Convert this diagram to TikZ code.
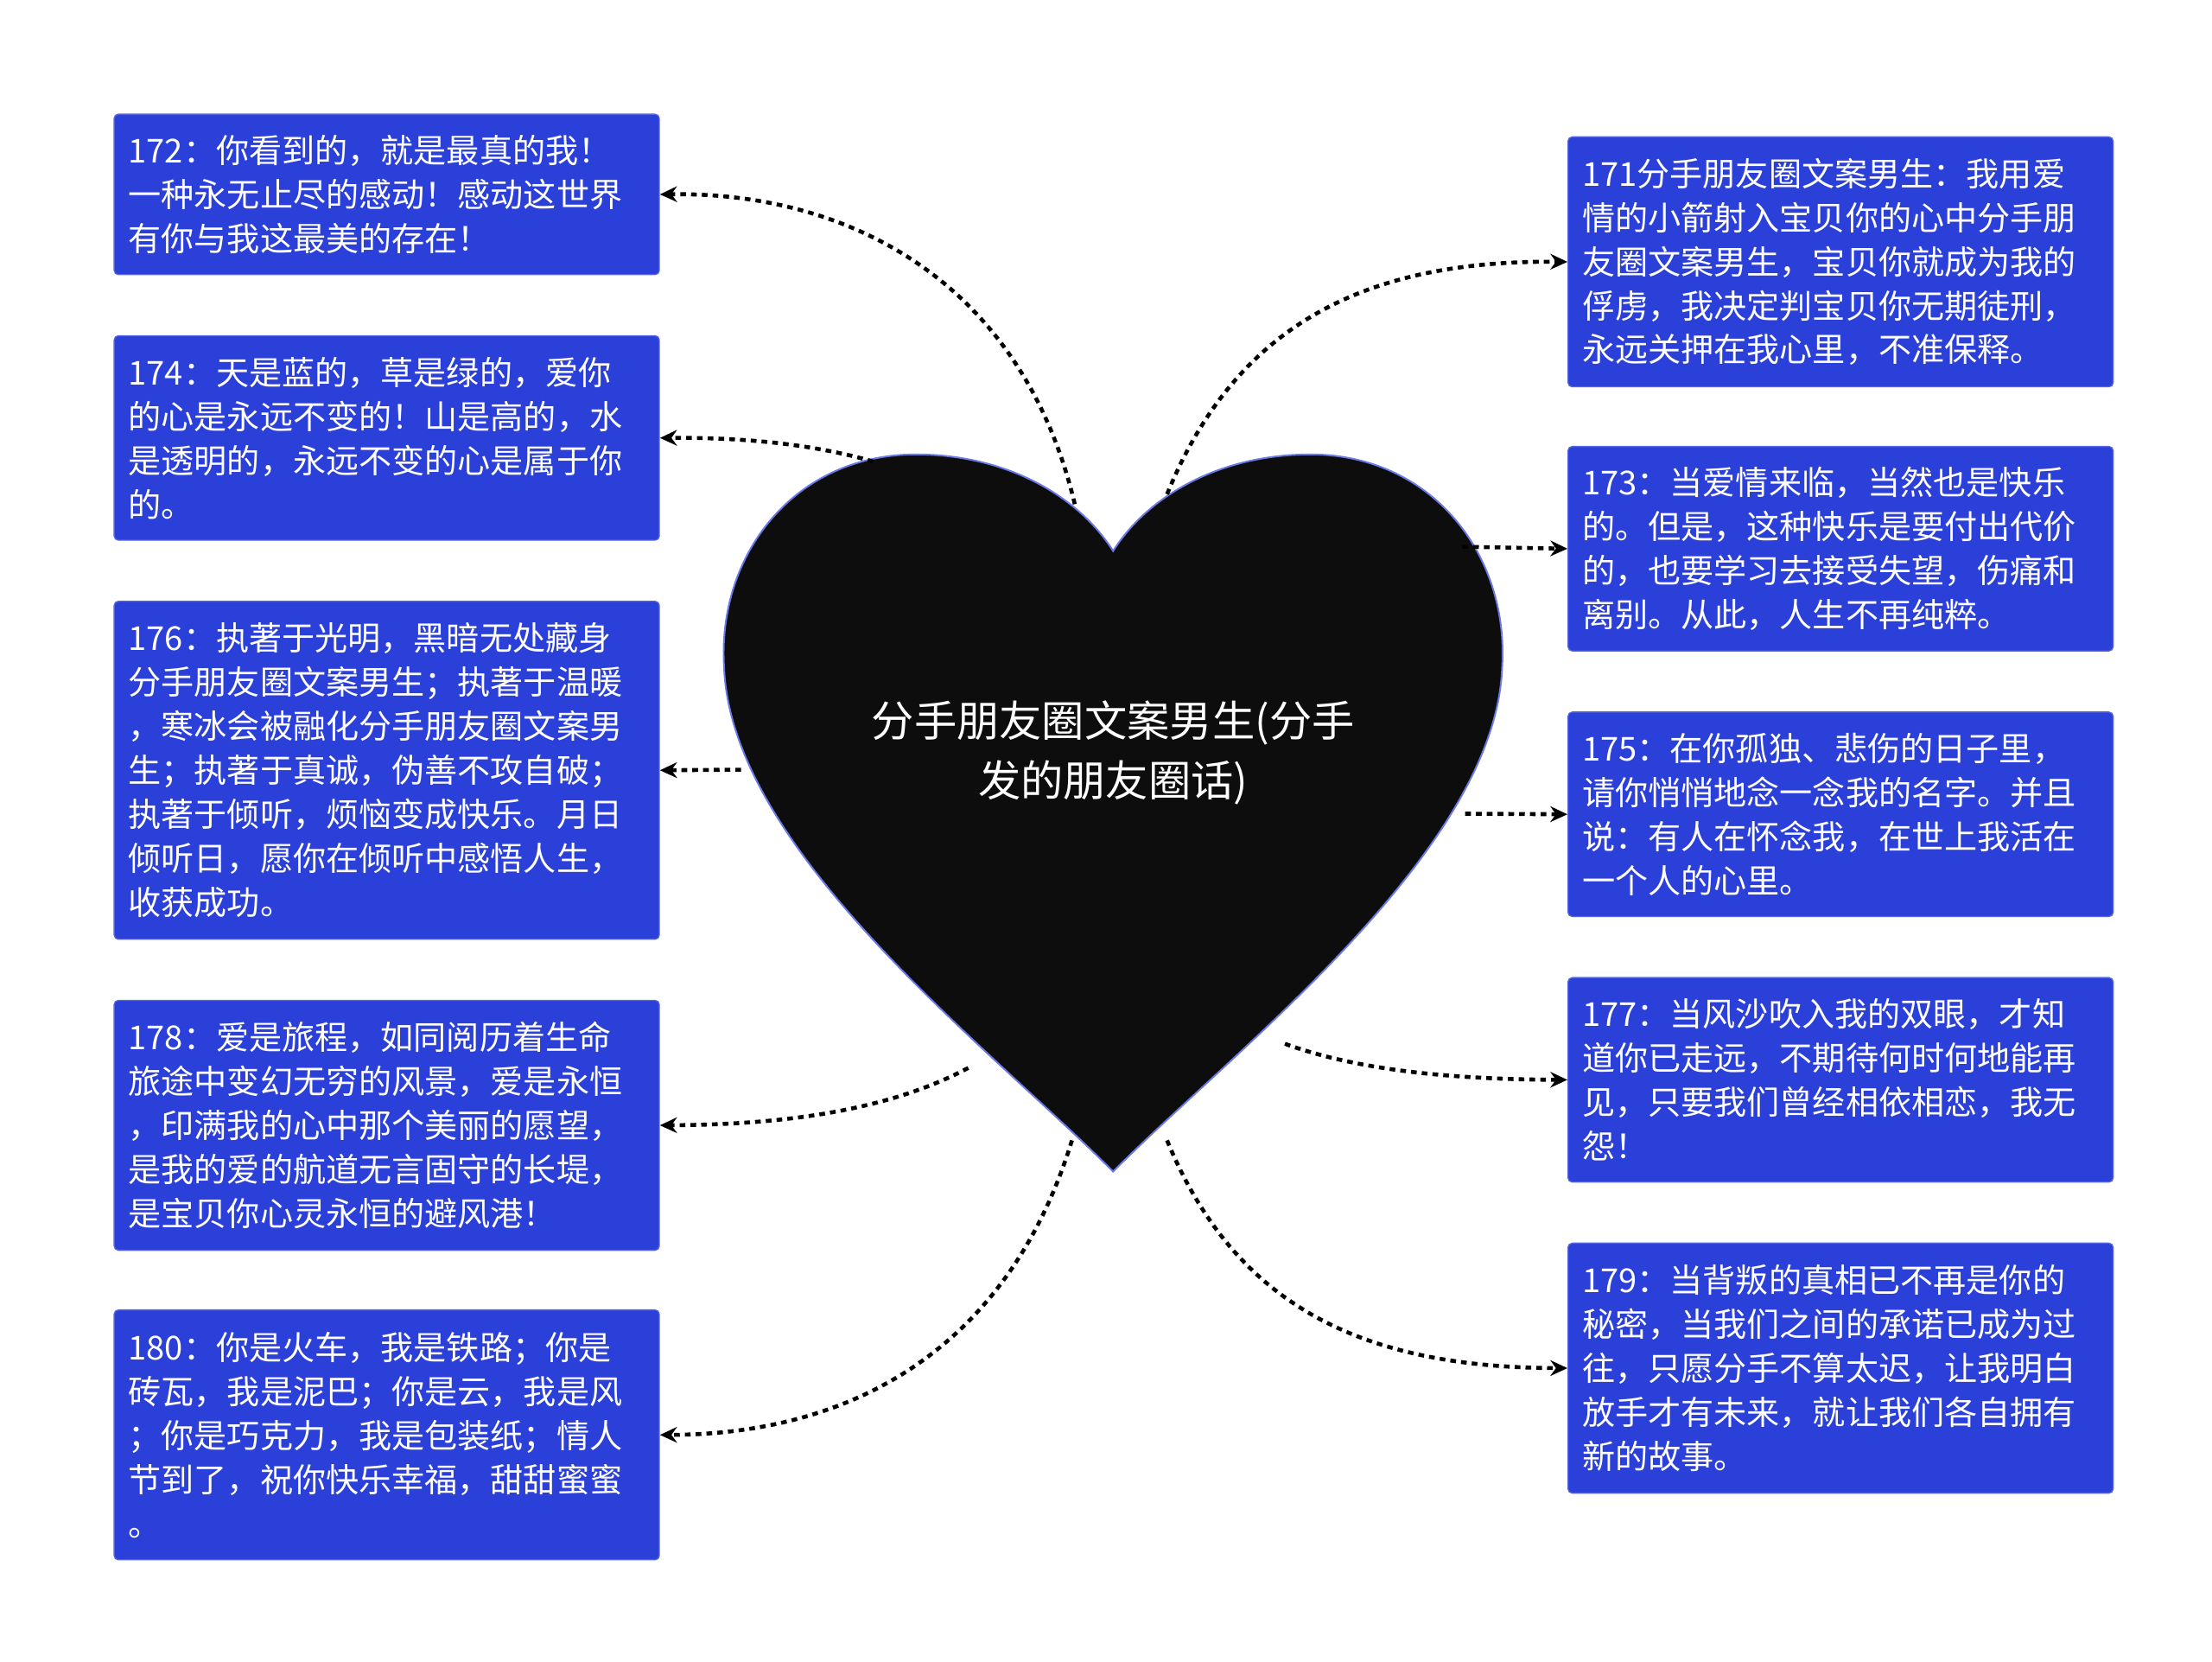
\documentclass[tikz,border=0pt]{standalone}
\usepackage{fontspec}
\setmainfont{Noto Sans CJK SC}
\usetikzlibrary{arrows.meta}
\definecolor{boxblue}{HTML}{2B3FD9}
\tikzset{
 box/.style={draw=boxblue!80!white,fill=boxblue,rounded corners=1.5pt,text=white,anchor=north west,
   text width=182pt,inner xsep=5pt,inner ysep=4pt,align=left,minimum width=192pt,
   font=\fontsize{11.6pt}{15.5pt}\selectfont},
 conn/.style={dash pattern=on 2pt off 1.8pt,line width=1.4pt,-{Stealth[length=6pt,width=5.5pt]}}
}
\begin{document}
\begin{tikzpicture}[x=0.5pt,y=-0.5pt]
\useasboundingbox (0,0) rectangle (1558,1170);
\fill[white] (0,0) rectangle (1558,1170);
% heart
\draw[fill=black!95,draw=boxblue!70,line width=0.6pt]
 (784,388) .. controls (760,350) and (710,320) .. (645,320)
 .. controls (560,320) and (505,390) .. (510,470)
 .. controls (515,600) and (700,740) .. (784,825)
 .. controls (868,740) and (1053,600) .. (1058,470)
 .. controls (1063,390) and (1008,320) .. (923,320)
 .. controls (858,320) and (808,350) .. (784,388) -- cycle;
\node[text=white,align=center,font=\fontsize{15pt}{21pt}\selectfont] (c) at (784,530) {分手朋友圈文案男生(分手\\发的朋友圈话)};
% left
\node[box,minimum height=56.5pt] (b172) at (80,80) {172：你看到的，就是最真的我！\\一种永无止尽的感动！感动这世界\\有你与我这最美的存在！};
\node[box,minimum height=72pt] (b174) at (80,236) {174：天是蓝的，草是绿的，爱你\\的心是永远不变的！山是高的，水\\是透明的，永远不变的心是属于你\\的。};
\node[box,minimum height=119pt] (b176) at (80,423) {176：执著于光明，黑暗无处藏身\\分手朋友圈文案男生；执著于温暖\\，寒冰会被融化分手朋友圈文案男\\生；执著于真诚，伪善不攻自破；\\执著于倾听，烦恼变成快乐。月日\\倾听日，愿你在倾听中感悟人生，\\收获成功。};
\node[box,minimum height=88pt] (b178) at (80,704) {178：爱是旅程，如同阅历着生命\\旅途中变幻无穷的风景，爱是永恒\\，印满我的心中那个美丽的愿望，\\是我的爱的航道无言固守的长堤，\\是宝贝你心灵永恒的避风港！};
\node[box,minimum height=88pt] (b180) at (80,922) {180：你是火车，我是铁路；你是\\砖瓦，我是泥巴；你是云，我是风\\；你是巧克力，我是包装纸；情人\\节到了，祝你快乐幸福，甜甜蜜蜜\\。};
% right
\node[box,minimum height=88pt] (b171) at (1104,96) {171分手朋友圈文案男生：我用爱\\情的小箭射入宝贝你的心中分手朋\\友圈文案男生，宝贝你就成为我的\\俘虏，我决定判宝贝你无期徒刑，\\永远关押在我心里，不准保释。};
\node[box,minimum height=72pt] (b173) at (1104,314) {173：当爱情来临，当然也是快乐\\的。但是，这种快乐是要付出代价\\的，也要学习去接受失望，伤痛和\\离别。从此，人生不再纯粹。};
\node[box,minimum height=72pt] (b175) at (1104,501) {175：在你孤独、悲伤的日子里，\\请你悄悄地念一念我的名字。并且\\说：有人在怀念我，在世上我活在\\一个人的心里。};
\node[box,minimum height=72pt] (b177) at (1104,688) {177：当风沙吹入我的双眼，才知\\道你已走远，不期待何时何地能再\\见，只要我们曾经相依相恋，我无\\怨！};
\node[box,minimum height=88pt] (b179) at (1104,875) {179：当背叛的真相已不再是你的\\秘密，当我们之间的承诺已成为过\\往，只愿分手不算太迟，让我明白\\放手才有未来，就让我们各自拥有\\新的故事。};
% connectors
\coordinate (s172) at (757,355); \coordinate (s174) at (615,325);
\coordinate (s176) at (522,542); \coordinate (s178) at (682,752);
\coordinate (s180) at (755,803); \coordinate (s171) at (822,348);
\coordinate (s173) at (1030,385); \coordinate (s175) at (1032,573);
\coordinate (s177) at (905,735); \coordinate (s179) at (822,803);
\draw[conn] (s172) .. controls (720,200) and (600,135) .. (b172.east);
\draw[conn] (s174) .. controls (570,312) and (520,308) .. (b174.east);
\draw[conn] (s176) -- (b176.east);
\draw[conn] (s178) .. controls (620,785) and (540,792) .. (b178.east);
\draw[conn] (s180) .. controls (710,950) and (600,1010) .. (b180.east);
\draw[conn] (s171) .. controls (870,230) and (960,183) .. (b171.west);
\draw[conn] (s173) -- (b173.west);
\draw[conn] (s175) -- (b175.west);
\draw[conn] (s177) .. controls (960,755) and (1030,760) .. (b177.west);
\draw[conn] (s179) .. controls (870,920) and (960,963) .. (b179.west);
\end{tikzpicture}
\end{document}
